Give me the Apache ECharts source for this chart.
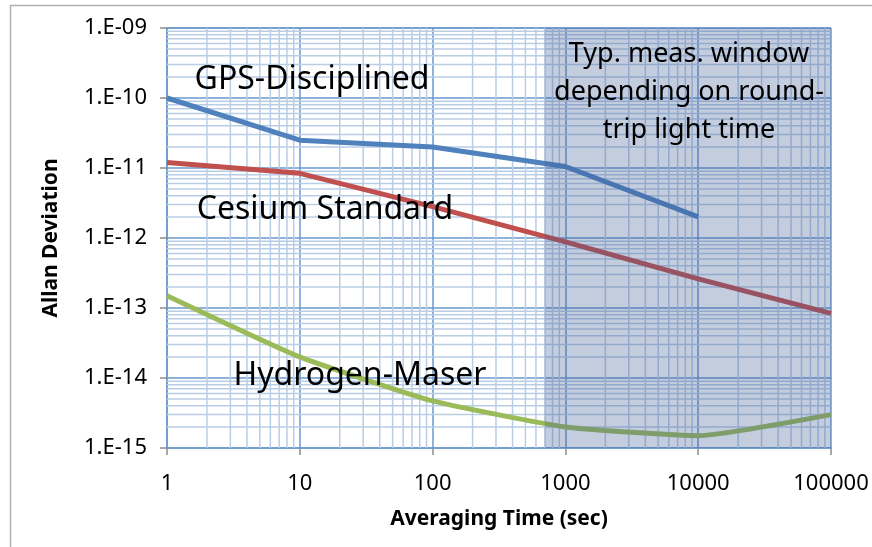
<!DOCTYPE html>
<html>
<head>
<meta charset="utf-8">
<script src="https://cdn.jsdelivr.net/npm/echarts@6/dist/echarts.min.js"></script>
<style>
html,body{margin:0;padding:0;background:#fff;}
#chart{width:872px;height:547px;}
</style>
</head>
<body>
<div id="chart"></div>
<script>
// ---- data ----
const xValues = [1, 10, 100, 1000, 10000, 100000];
const gpsDisciplined = [1e-10, 2.5e-11, 2e-11, 1.05e-11, 2e-12, null];
const cesiumStandard = [1.2e-11, 8.4e-12, 2.8e-12, 8.8e-13, 2.6e-13, 8.4e-14];
const hydrogenMaser = [1.5e-13, 2e-14, 4.7e-15, 2e-15, 1.5e-15, 3e-15];
const xTickValues = [1, 10, 100, 1000, 10000, 100000];
const xTickLabels = ['1', '10', '100', '1000', '10000', '100000'];
const yTickValues = [1e-15, 1e-14, 1e-13, 1e-12, 1e-11, 1e-10, 1e-9];
const yTickLabels = ['1.E-15', '1.E-14', '1.E-13', '1.E-12', '1.E-11', '1.E-10', '1.E-09'];
const windowStart = 700;
const windowEnd = 100000;
const seriesNames = ['GPS-Disciplined', 'Cesium Standard', 'Hydrogen-Maser'];

function pairs(ys) {
  const out = [];
  ys.forEach((y, i) => { if (y != null) out.push([xValues[i], y]); });
  return out;
}
function nearestLabel(v, vals, labels) {
  let best = 0, bd = Infinity;
  vals.forEach((t, i) => {
    const d = Math.abs(Math.log10(v) - Math.log10(t));
    if (d < bd) { bd = d; best = i; }
  });
  return bd < 0.01 ? labels[best] : '';
}
// minor log gridlines (2..9 in each decade)
function minorValues(lo, hi) {
  const out = [];
  for (let k = lo; k < hi; k++) {
    for (let m = 2; m <= 9; m++) out.push(m * Math.pow(10, k));
  }
  return out;
}
const X_MIN = 1, X_MAX = 100000, Y_MIN = 1e-15, Y_MAX = 1e-9;
// [x, y, orientation] ; orientation 0 = vertical line at x, 1 = horizontal line at y
const minorGridData = minorValues(0, 5).map(v => [v, Y_MIN, 0])
  .concat(minorValues(-15, -9).map(v => [X_MIN, v, 1]));

const FONT = '"Noto Sans", "Open Sans", sans-serif';
const chart = echarts.init(document.getElementById('chart'), null, { renderer: 'canvas' });

const option = {
  animation: false,
  backgroundColor: '#fff',
  grid: { left: 167, right: 41, top: 28, bottom: 99, containLabel: false, outerBoundsMode: 'none' },
  xAxis: {
    type: 'log', logBase: 10, min: X_MIN, max: X_MAX, interval: 1,
    name: 'Averaging Time (sec)', nameLocation: 'middle', nameGap: 61,
    nameTextStyle: { fontFamily: FONT, fontWeight: 'bold', fontSize: 21, color: '#000' },
    axisLine: { show: true, lineStyle: { color: '#6a98cf', width: 1.5 } },
    axisTick: { show: true, length: 7, lineStyle: { color: '#8c8c8c', width: 1.5 } },
    axisLabel: { fontFamily: FONT, fontSize: 22, color: '#000', margin: 25,
      formatter: v => nearestLabel(v, xTickValues, xTickLabels) },
    splitLine: { show: true, lineStyle: { color: '#6a98cf', width: 1.5 } },
    minorTick: { show: false }, minorSplitLine: { show: false }
  },
  yAxis: {
    type: 'log', logBase: 10, min: Y_MIN, max: Y_MAX, interval: 1,
    name: 'Allan Deviation', nameLocation: 'middle', nameGap: 105, nameRotate: 90,
    nameTextStyle: { fontFamily: FONT, fontWeight: 'bold', fontSize: 21, color: '#000' },
    axisLine: { show: true, lineStyle: { color: '#6a98cf', width: 1.5 } },
    axisTick: { show: true, length: 7, lineStyle: { color: '#8c8c8c', width: 1.5 } },
    axisLabel: { fontFamily: FONT, fontSize: 22, color: '#000', margin: 20,
      formatter: v => nearestLabel(v, yTickValues, yTickLabels) },
    splitLine: { show: true, lineStyle: { color: '#6a98cf', width: 1.5 } },
    minorTick: { show: false }, minorSplitLine: { show: false }
  },
  series: [
    {
      name: 'minorGrid', type: 'custom', z: 1, silent: true, clip: true,
      data: minorGridData,
      renderItem: function (params, api) {
        const orient = api.value(2);
        let p1, p2;
        if (orient === 0) {
          p1 = api.coord([api.value(0), Y_MIN]);
          p2 = api.coord([api.value(0), Y_MAX]);
        } else {
          p1 = api.coord([X_MIN, api.value(1)]);
          p2 = api.coord([X_MAX, api.value(1)]);
        }
        return {
          type: 'line', silent: true,
          shape: { x1: p1[0], y1: p1[1], x2: p2[0], y2: p2[1] },
          style: { stroke: '#b9cde5', lineWidth: 1.5 }
        };
      }
    },
    {
      name: seriesNames[0], type: 'line', data: pairs(gpsDisciplined), z: 3,
      showSymbol: false, symbol: 'none', lineStyle: { color: '#4f81bd', width: 5 }
    },
    {
      name: seriesNames[1], type: 'line', data: pairs(cesiumStandard), z: 3,
      showSymbol: false, symbol: 'none', lineStyle: { color: '#c0504d', width: 5 }
    },
    {
      name: seriesNames[2], type: 'line', data: pairs(hydrogenMaser), z: 3, smooth: 0.15,
      showSymbol: false, symbol: 'none', lineStyle: { color: '#9bbb59', width: 5 }
    },
    {
      name: 'window', type: 'line', data: [], z: 10, silent: true,
      markArea: {
        silent: true, z: 10,
        itemStyle: { color: 'rgba(58,88,145,0.30)' },
        emphasis: { disabled: true },
        data: [[{ xAxis: windowStart }, { xAxis: windowEnd }]]
      }
    }
  ],
  graphic: [
    { type: 'rect', z: 0, silent: true, shape: { x: 10.5, y: 5.5, width: 900, height: 600 },
      style: { fill: 'none', stroke: '#b0b0b0', lineWidth: 1.5 } },
    { type: 'text', z: 100, x: 312, y: 80, style: { text: 'GPS-Disciplined', font: '32px ' + FONT, fill: '#000', align: 'center', verticalAlign: 'middle' } },
    { type: 'text', z: 100, x: 325, y: 210, style: { text: 'Cesium Standard', font: '32px ' + FONT, fill: '#000', align: 'center', verticalAlign: 'middle' } },
    { type: 'text', z: 100, x: 360, y: 376, style: { text: 'Hydrogen-Maser', font: '32px ' + FONT, fill: '#000', align: 'center', verticalAlign: 'middle' } },
    { type: 'text', z: 100, x: 689, y: 92, style: { text: 'Typ. meas. window\ndepending on round-\ntrip light time', font: '27px ' + FONT, lineHeight: 38, fill: '#000', align: 'center', verticalAlign: 'middle' } }
  ]
};
chart.setOption(option);
</script>
</body>
</html>
